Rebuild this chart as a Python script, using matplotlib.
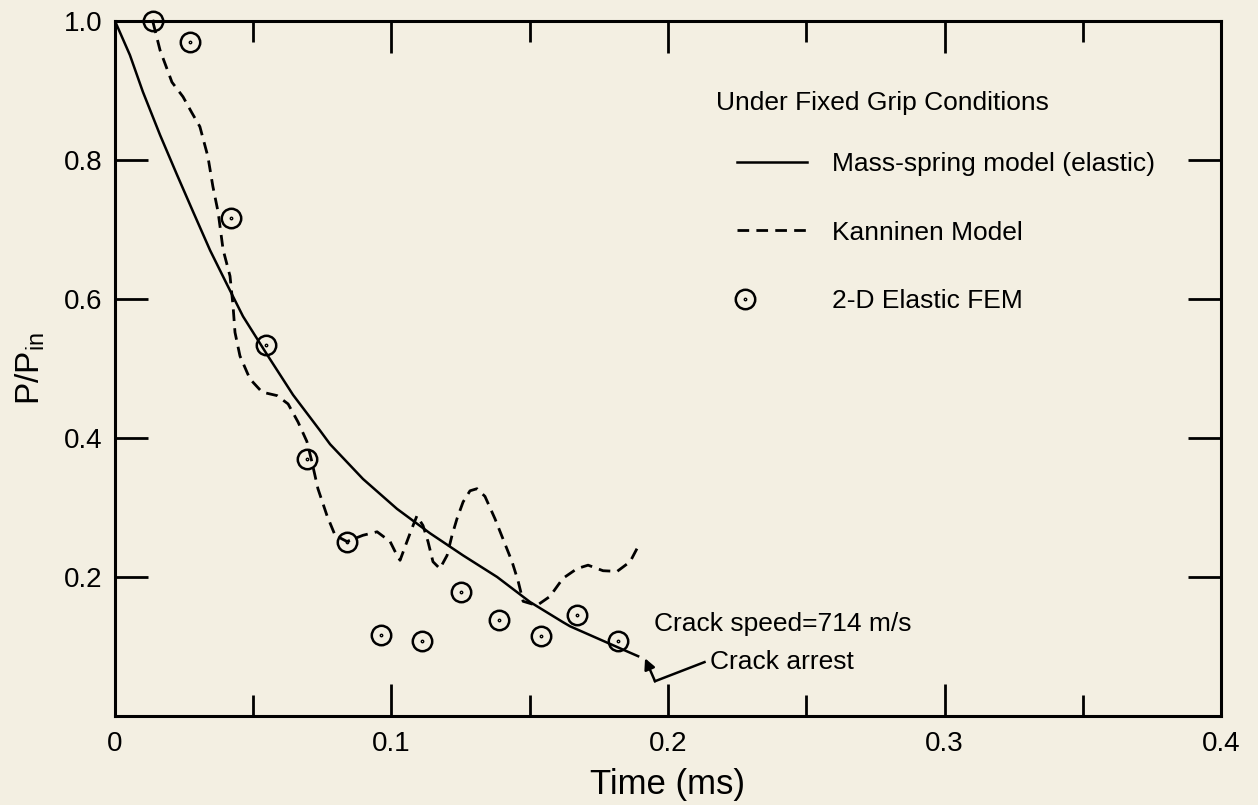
import numpy as np
import matplotlib.pyplot as plt
from matplotlib.path import Path
from matplotlib.legend_handler import HandlerLine2D

# mass-spring model (elastic)
ms_t = [0, 0.0054, 0.0101, 0.0163, 0.0224, 0.0282, 0.0344, 0.0405, 0.0463,
        0.055, 0.0644, 0.0741, 0.0778, 0.0897, 0.102, 0.1139, 0.1259, 0.1382,
        0.1501, 0.162, 0.1646, 0.1743, 0.1863, 0.1892]
ms_p = [1.0, 0.951, 0.898, 0.836, 0.779, 0.726, 0.670, 0.621, 0.575,
        0.520, 0.462, 0.411, 0.391, 0.341, 0.298, 0.263, 0.231, 0.200,
        0.164, 0.135, 0.129, 0.112, 0.091, 0.086]

# Kanninen model
kan_t = [0.0137, 0.0163, 0.0206, 0.0246, 0.0278, 0.0307, 0.0336, 0.0354, 0.0373,
         0.0391, 0.0416, 0.0427, 0.0434, 0.0452, 0.0488, 0.0532, 0.0586, 0.0626,
         0.0662, 0.0694, 0.0712, 0.0734, 0.0767, 0.0796, 0.0839, 0.0897, 0.0948,
         0.0995, 0.102, 0.1031, 0.1056, 0.1074, 0.1092, 0.1114, 0.1132, 0.115,
         0.1175, 0.1201, 0.1219, 0.1237, 0.1259, 0.1284, 0.1309, 0.1338, 0.1374,
         0.1403, 0.1436, 0.1458, 0.1476, 0.1526, 0.1573, 0.162, 0.1671, 0.1711,
         0.1765, 0.1816, 0.1863, 0.1892]
kan_p = [0.999, 0.958, 0.912, 0.891, 0.868, 0.848, 0.805, 0.762, 0.725,
         0.671, 0.633, 0.590, 0.552, 0.518, 0.485, 0.466, 0.461, 0.449,
         0.423, 0.395, 0.366, 0.327, 0.288, 0.260, 0.251, 0.260, 0.265,
         0.251, 0.231, 0.224, 0.251, 0.270, 0.288, 0.274, 0.251, 0.222,
         0.212, 0.231, 0.260, 0.284, 0.308, 0.324, 0.327, 0.316, 0.284,
         0.255, 0.222, 0.194, 0.165, 0.159, 0.172, 0.198, 0.212, 0.217,
         0.209, 0.208, 0.222, 0.244]

# 2-D elastic FEM
fem_t = [0.0137, 0.027, 0.042, 0.0546, 0.0694, 0.0839, 0.0962, 0.111,
         0.125, 0.139, 0.154, 0.167, 0.182]
fem_p = [1.0, 0.97, 0.717, 0.534, 0.370, 0.250, 0.116, 0.108,
         0.179, 0.138, 0.115, 0.145, 0.108]

xticks = [0, 0.1, 0.2, 0.3, 0.4]
xtick_labels = ['0', '0.1', '0.2', '0.3', '0.4']
yticks = [0.2, 0.4, 0.6, 0.8, 1.0]
ytick_labels = ['0.2', '0.4', '0.6', '0.8', '1.0']

# crack arrest pointer: text, elbow, arrow tip
arrest_text = (0.2152, 0.0775)
arrest_elbow = (0.1953, 0.050)
arrest_tip = (0.1917, 0.083)
speed_text = (0.195, 0.132)

bg = '#f3efe2'
plt.rcParams['font.family'] = 'Liberation Sans'
plt.rcParams['mathtext.default'] = 'regular'

# circle with a dot in the middle
ring = Path.unit_circle()
dot = Path(ring.vertices * 0.07, ring.codes)
odot = Path.make_compound_path(ring, dot)


class LeftMarker(HandlerLine2D):
    # put the single legend marker near the left end of the handle
    def create_artists(self, legend, orig_handle, xdescent, ydescent, width, height, fontsize, trans):
        arts = super().create_artists(legend, orig_handle, xdescent, ydescent, width, height, fontsize, trans)
        line = arts[0]
        xd = line.get_xdata()
        line.set_xdata([xd[0], xd[0] + 0.11 * width, xd[-1]])
        return arts


fig = plt.figure(figsize=(12.58, 8.05), dpi=100, facecolor=bg)
ax = fig.add_axes([0.0914, 0.1106, 0.8792, 0.8633], facecolor=bg)

ax.plot(ms_t, ms_p, 'k-', lw=1.8, label='Mass-spring model (elastic)')
ax.plot(kan_t, kan_p, 'k--', lw=2.0, dashes=(4.2, 2.6), label='Kanninen Model')
fem, = ax.plot(fem_t, fem_p, ls='none', marker=odot, ms=14, mfc='none',
               mec='k', mew=1.8, label='2-D Elastic FEM', clip_on=False)

ax.set_xlim(0, 0.4)
ax.set_ylim(0, 1.0)
ax.set_xticks(xticks)
ax.set_xticklabels(xtick_labels)
ax.set_xticks([0.05, 0.15, 0.25, 0.35], minor=True)
ax.set_yticks(yticks)
ax.set_yticklabels(ytick_labels)

ax.tick_params(axis='x', which='major', direction='in', top=True, length=23, width=2, pad=11, labelsize=20)
ax.tick_params(axis='x', which='minor', direction='in', top=True, length=15, width=2)
ax.tick_params(axis='y', direction='in', right=True, length=24, width=2, pad=9, labelsize=20)
for s in ax.spines.values():
    s.set_linewidth(2.2)

ax.set_xlabel('Time (ms)', fontsize=25, labelpad=8)
ax.set_ylabel(r'P/P$_{in}$', fontsize=24, labelpad=12)

ax.text(0.5434, 0.882, 'Under Fixed Grip Conditions', transform=ax.transAxes,
        fontsize=19, va='center', ha='left')
ax.legend(loc='upper left', bbox_to_anchor=(0.5624, 0.811), frameon=False,
          fontsize=19, handlelength=2.65, handletextpad=0.95, labelspacing=1.68,
          borderpad=0, borderaxespad=0, numpoints=1,
          handler_map={fem: LeftMarker()})

ax.text(speed_text[0], speed_text[1], 'Crack speed=714 m/s', fontsize=19, va='center', ha='left')
ax.text(arrest_text[0], arrest_text[1], 'Crack arrest', fontsize=19, va='center', ha='left')
ax.plot([arrest_text[0] - 0.002, arrest_elbow[0]], [arrest_text[1], arrest_elbow[1]], 'k-', lw=1.8)
ax.annotate('', xy=arrest_tip, xytext=arrest_elbow,
            arrowprops=dict(arrowstyle='-|>', color='k', lw=1.8, mutation_scale=16,
                            shrinkA=0, shrinkB=0))

plt.savefig('out.png', dpi=100, facecolor=bg)
